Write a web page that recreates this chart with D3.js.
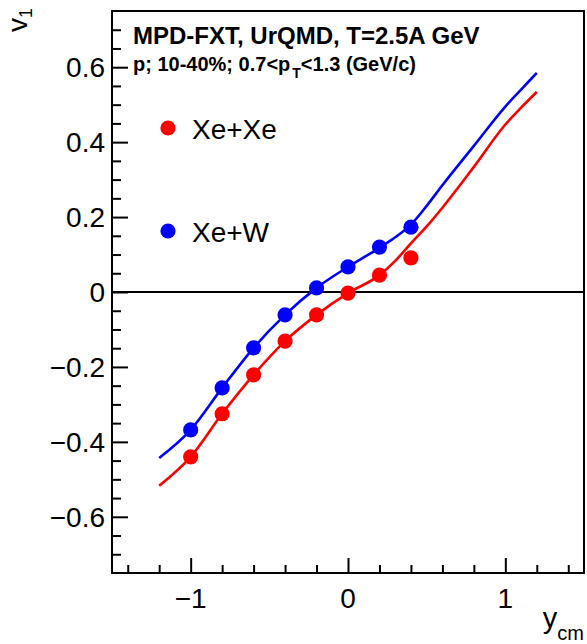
<!DOCTYPE html>
<html><head><meta charset="utf-8">
<script src="https://cdn.jsdelivr.net/npm/d3@7"></script>
<style>
body{margin:0;background:#fff;}
text{font-family:"Liberation Sans",Arial,Helvetica,sans-serif;}
</style></head>
<body><svg id="c" width="587" height="644"></svg>
<script>
// Data points (UrQMD, protons, 10-40%)
const pointY = [-1.0, -0.8, -0.6, -0.4, -0.2, 0.0, 0.2, 0.4];
const xexeV1 = [-0.440, -0.325, -0.221, -0.131, -0.061, -0.003, 0.045, 0.091];
const xewV1  = [-0.368, -0.256, -0.149, -0.061, 0.011, 0.067, 0.120, 0.173];
// Curves
const xexeLineY  = [-1.2, -1.0, -0.8, -0.6, -0.4, -0.2, 0.0, 0.2, 0.3, 0.4, 0.5, 0.6, 0.8, 1.0, 1.1, 1.2];
const xexeLineV1 = [-0.517, -0.440, -0.325, -0.221, -0.131, -0.061, -0.003, 0.045, 0.083, 0.130, 0.175, 0.225, 0.334, 0.447, 0.492, 0.534];
const xewLineY  = [-1.2, -1.0, -0.8, -0.6, -0.4, -0.2, 0.0, 0.2, 0.3, 0.4, 0.5, 0.6, 0.8, 1.0, 1.1, 1.2];
const xewLineV1 = [-0.443, -0.368, -0.256, -0.149, -0.061, 0.011, 0.067, 0.118, 0.146, 0.180, 0.230, 0.285, 0.390, 0.495, 0.540, 0.585];
const xTickLabels = [-1, 0, 1];
const yTickLabels = [-0.6, -0.4, -0.2, 0, 0.2, 0.4, 0.6];
const seriesNames = ["Xe+Xe", "Xe+W"];
const seriesColors = ["#ff0000", "#0000ff"];

const svg = d3.select("#c");
const L = 112, R = 584, T = 11, B = 573;
const x = d3.scaleLinear().domain([-1.5, 1.5]).range([L, R]);
const y = d3.scaleLinear().domain([-0.75, 0.75]).range([B, T]);
const fmt = v => (v < 0 ? "\u2212" : "") + Math.abs(v).toString();

// zero line
svg.append("line").attr("x1", L).attr("x2", R).attr("y1", y(0)).attr("y2", y(0))
  .attr("stroke", "#000").attr("stroke-width", 2);

// curves
const line = d3.line().x(d => x(d[0])).y(d => y(d[1])).curve(d3.curveMonotoneX);
const curves = [d3.zip(xexeLineY, xexeLineV1), d3.zip(xewLineY, xewLineV1)];
curves.forEach((c, i) => svg.append("path").attr("d", line(c)).attr("fill", "none")
  .attr("stroke", seriesColors[i]).attr("stroke-width", 2.6));

// points
[xexeV1, xewV1].forEach((vals, i) => {
  svg.append("g").selectAll("circle").data(d3.zip(pointY, vals)).join("circle")
    .attr("cx", d => x(d[0])).attr("cy", d => y(d[1])).attr("r", 7.6)
    .attr("fill", seriesColors[i]);
});

// axes
const xMajor = d3.range(-1, 1.001, 1);
const xMinor = d3.range(-1.4, 1.401, 0.2).map(v => +v.toFixed(2)).filter(v => Math.abs(v - Math.round(v)) > 1e-6);
const yMajor = d3.range(-0.6, 0.601, 0.2).map(v => +v.toFixed(2));
const yMinor = d3.range(-0.70, 0.701, 0.05).map(v => +v.toFixed(2)).filter(v => !yMajor.some(m => Math.abs(m - v) < 1e-6));

const xAxisMajor = d3.axisTop(x).tickValues(xMajor).tickSize(15).tickFormat("");
const xAxisMinor = d3.axisTop(x).tickValues(xMinor).tickSize(8).tickFormat("");
const yAxisMajor = d3.axisRight(y).tickValues(yMajor).tickSize(16).tickFormat("");
const yAxisMinor = d3.axisRight(y).tickValues(yMinor).tickSize(9).tickFormat("");
[xAxisMajor, xAxisMinor].forEach(a => {
  const g = svg.append("g").attr("transform", `translate(0,${B})`).call(a);
  g.select(".domain").remove();
  g.selectAll("line").attr("stroke-width", 2);
});
[yAxisMajor, yAxisMinor].forEach(a => {
  const g = svg.append("g").attr("transform", `translate(${L},0)`).call(a);
  g.select(".domain").remove();
  g.selectAll("line").attr("stroke-width", 2);
});

// tick labels
svg.append("g").selectAll("text").data(xTickLabels).join("text")
  .attr("x", d => x(d)).attr("y", 608).attr("text-anchor", "middle")
  .attr("font-size", 28).text(fmt);
svg.append("g").selectAll("text").data(yTickLabels).join("text")
  .attr("x", 105).attr("y", d => y(d) + 10).attr("text-anchor", "end")
  .attr("font-size", 28).text(fmt);

// frame
svg.append("rect").attr("x", L).attr("y", T).attr("width", R - L).attr("height", B - T)
  .attr("fill", "none").attr("stroke", "#000").attr("stroke-width", 2);

// axis titles
const yt = svg.append("text").attr("transform", "translate(27,8) rotate(-90)")
  .attr("text-anchor", "end").attr("font-size", 28);
yt.append("tspan").text("v");
yt.append("tspan").attr("font-size", 18).attr("dy", 5).text("1");

const xt = svg.append("text").attr("x", 584).attr("y", 628).attr("text-anchor", "end").attr("font-size", 29);
xt.append("tspan").text("y");
xt.append("tspan").attr("font-size", 20).attr("dy", 12).text("cm");

// header text
svg.append("text").attr("x", 133).attr("y", 44).attr("font-size", 24).attr("font-weight", "bold")
  .text("MPD-FXT, UrQMD, T=2.5A GeV");
const t2 = svg.append("text").attr("x", 133).attr("y", 71).attr("font-size", 20).attr("font-weight", "bold");
t2.append("tspan").text("p; 10-40%; 0.7<p");
t2.append("tspan").attr("font-size", 14).attr("dx", 2).attr("dy", 7).text("T");
t2.append("tspan").attr("dy", -7).text("<1.3 (GeV/c)");

// legend
const legY = [128, 231];
seriesNames.forEach((n, i) => {
  svg.append("circle").attr("cx", 168).attr("cy", legY[i]).attr("r", 7.6).attr("fill", seriesColors[i]);
  svg.append("text").attr("x", 192).attr("y", legY[i] + 11).attr("font-size", 28).text(n);
});
</script></body></html>
